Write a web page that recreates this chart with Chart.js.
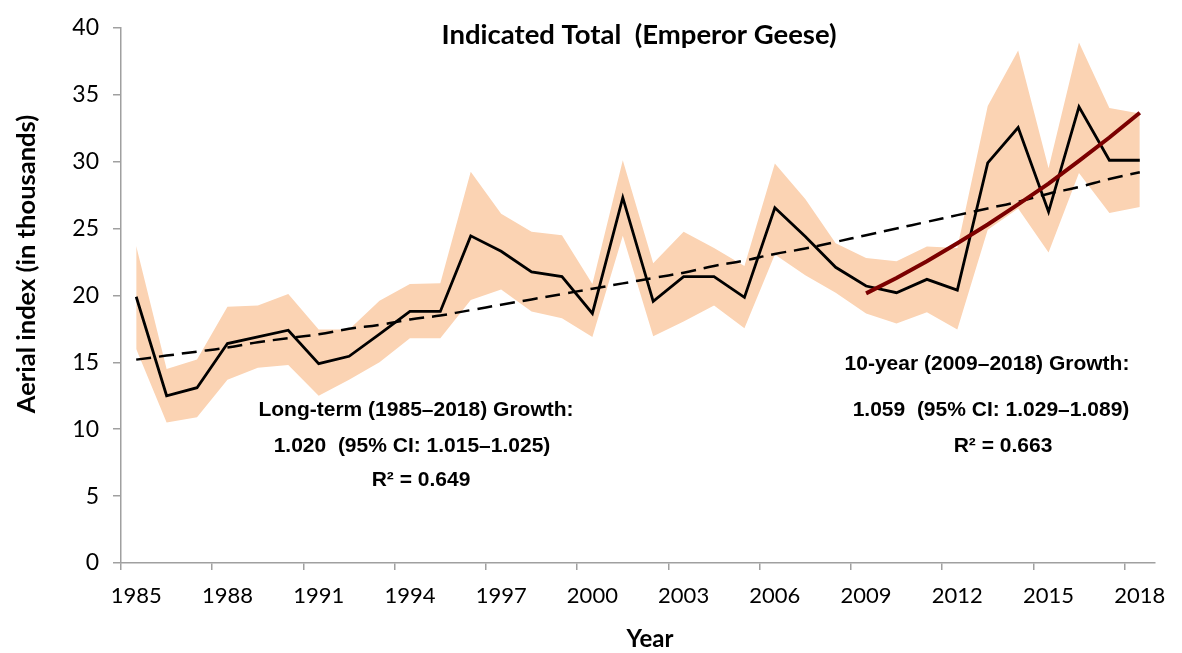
<!DOCTYPE html>
<html>
<head>
<meta charset="utf-8">
<script src="https://cdn.jsdelivr.net/npm/chart.js@4.4.1/dist/chart.umd.min.js"></script>
<style>
  html, body { margin: 0; padding: 0; background: #fff; }
  #wrap { width: 1182px; height: 653px; position: relative; }
</style>
</head>
<body>
<div id="wrap"><canvas id="chart"></canvas></div>
<script>
// ── Data (thousands of birds) ─────────────────────────────

const years = [
  '1985', '1986', '1987', '1988', '1989', '1990', '1991', '1992', '1993', '1994',
  '1995', '1996', '1997', '1998', '1999', '2000', '2001', '2002', '2003', '2004',
  '2005', '2006', '2007', '2008', '2009', '2010', '2011', '2012', '2013', '2014',
  '2015', '2016', '2017', '2018',
];

const aerialIndex = [
  19.9, 12.5, 13.1, 16.4, 16.9, 17.4, 14.9, 15.45, 17.1, 18.8,
  18.8, 24.45, 23.3, 21.75, 21.4, 18.65, 27.3, 19.55, 21.4, 21.4,
  19.85, 26.55, 24.4, 22.1, 20.7, 20.2, 21.2, 20.4, 29.9, 32.55,
  26.25, 34.1, 30.1, 30.1,
];

const ciUpper = [
  23.7, 14.5, 15.2, 19.15, 19.25, 20.1, 17.45, 17.45, 19.6, 20.85,
  20.9, 29.25, 26.1, 24.75, 24.5, 20.85, 30.1, 22.4, 24.75, 23.55,
  22.2, 29.85, 27.2, 23.9, 22.8, 22.55, 23.65, 23.55, 34.15, 38.3,
  29.5, 38.9, 34.0, 33.6,
];

const ciLower = [
  16.0, 10.5, 10.9, 13.7, 14.6, 14.8, 12.5, 13.7, 15.0, 16.8,
  16.8, 19.65, 20.45, 18.8, 18.3, 16.9, 24.45, 16.95, 18.05, 19.25,
  17.55, 23.05, 21.5, 20.2, 18.65, 17.9, 18.75, 17.45, 24.9, 26.5,
  23.2, 29.15, 26.15, 26.6,
];

// long-term trend (dashed), 1985–2018
const longTrend = [
  15.2, 15.5, 15.8, 16.1, 16.5, 16.8, 17.1, 17.5, 17.8, 18.2,
  18.5, 18.9, 19.3, 19.7, 20.1, 20.5, 20.9, 21.3, 21.7, 22.2,
  22.6, 23.1, 23.5, 24.0, 24.5, 25.0, 25.5, 26.0, 26.5, 27.0,
  27.6, 28.1, 28.7, 29.2,
];

// 10-year trend (dark red), 2009–2018 only
const shortTrend = [
  null, null, null, null, null, null, null, null, null, null,
  null, null, null, null, null, null, null, null, null, null,
  null, null, null, null, 20.15, 21.3, 22.55, 23.9, 25.3, 26.8,
  28.35, 30.05, 31.8, 33.65,
];

const yTicks = [0, 5, 10, 15, 20, 25, 30, 35, 40];

// ── Styling ────────────────────────────────────────────────

const AXIS_GRAY = '#a0a0a0';
const BAND      = '#fbd3b3';
const TREND_RED = '#7b0000';
const TICK_FONT = { family: 'Lato', size: 22 };

// ── Free text (title, axis titles, growth notes) ───────────

const textPlugin = {
  id: 'texts',
  afterDraw(chart) {
    const ctx = chart.ctx;
    ctx.save();
    ctx.fillStyle = '#000';
    ctx.textAlign = 'center';
    ctx.textBaseline = 'alphabetic';

    ctx.font = "bold 27.5px 'Lato'";
    ctx.fillText('Indicated Total  (Emperor Geese)', 639, 44);

    ctx.font = "bold 24px 'Lato'";
    ctx.fillText('Year', 650, 647);

    ctx.save();
    ctx.translate(35, 264);
    ctx.rotate(-Math.PI / 2);
    ctx.font = "bold 25.5px 'Lato'";
    ctx.fillText('Aerial index (in thousands)', 0, 0);
    ctx.restore();

    ctx.font = "bold 21px 'Liberation Sans'";
    ctx.fillText('Long-term (1985\u20132018) Growth:', 416, 416);
    ctx.fillText('1.020  (95% CI: 1.015\u20131.025)', 412, 452);
    ctx.fillText('R\u00b2 = 0.649', 421, 486);

    ctx.fillText('10-year (2009\u20132018) Growth:', 987, 370);
    ctx.fillText('1.059  (95% CI: 1.029\u20131.089)', 991, 416);
    ctx.fillText('R\u00b2 = 0.663', 1003, 452);
    ctx.restore();
  },
};

// ── Chart ──────────────────────────────────────────────────

new Chart(document.getElementById('chart'), {
  type: 'line',
  data: {
    labels: years,
    datasets: [
      {
        label: '10-year trend',
        data: shortTrend,
        borderColor: TREND_RED,
        borderWidth: 4,
        pointRadius: 0,
        fill: false,
        order: 0,
      },
      {
        label: 'Long-term trend',
        data: longTrend,
        borderColor: '#000',
        borderWidth: 2.5,
        borderDash: [15, 8],
        pointRadius: 0,
        tension: 0.4,
        fill: false,
        order: 1,
      },
      {
        label: 'Aerial index',
        data: aerialIndex,
        borderColor: '#000',
        borderWidth: 2.8,
        pointRadius: 0,
        fill: false,
        order: 2,
      },
      {
        label: 'Upper 95% CI',
        data: ciUpper,
        borderColor: 'rgba(0,0,0,0)',
        borderWidth: 0,
        backgroundColor: BAND,
        pointRadius: 0,
        fill: '+1',
        order: 3,
      },
      {
        label: 'Lower 95% CI',
        data: ciLower,
        borderColor: 'rgba(0,0,0,0)',
        borderWidth: 0,
        pointRadius: 0,
        fill: false,
        order: 4,
      },
    ],
  },
  options: {
    responsive: true,
    maintainAspectRatio: false,
    animation: false,
    layout: { padding: { left: 0, right: 27, top: 17, bottom: 0 } },
    plugins: {
      legend:  { display: false },
      tooltip: { enabled: false },
      title:   { display: false },
    },
    scales: {
      x: {
        type: 'category',
        offset: true,
        afterFit: s => { s.height = 90; },
        border: { display: true, color: AXIS_GRAY, width: 1.5 },
        grid: {
          offset: true,
          drawOnChartArea: false,
          drawTicks: true,
          tickLength: 7,
          lineWidth: 1.5,
          color: c => (c.index % 3 === 0 ? AXIS_GRAY : 'rgba(0,0,0,0)'),
        },
        ticks: {
          autoSkip: false,
          maxRotation: 0,
          minRotation: 0,
          padding: 13,
          color: '#000',
          font: TICK_FONT,
          callback: (v, i) => (i % 3 === 0 ? years[i] : ''),
        },
      },
      y: {
        min: yTicks[0],
        max: yTicks[yTicks.length - 1],
        afterFit: s => { s.width = 121; },
        afterBuildTicks: s => { s.ticks = yTicks.map(v => ({ value: v })); },
        border: { display: true, color: AXIS_GRAY, width: 1.5 },
        grid: {
          drawOnChartArea: false,
          drawTicks: true,
          tickLength: 8,
          lineWidth: 1.5,
          color: AXIS_GRAY,
        },
        ticks: {
          padding: 14,
          color: '#000',
          font: { family: 'Lato', size: 23 },
        },
      },
    },
  },
  plugins: [textPlugin],
});
</script>
</body>
</html>
